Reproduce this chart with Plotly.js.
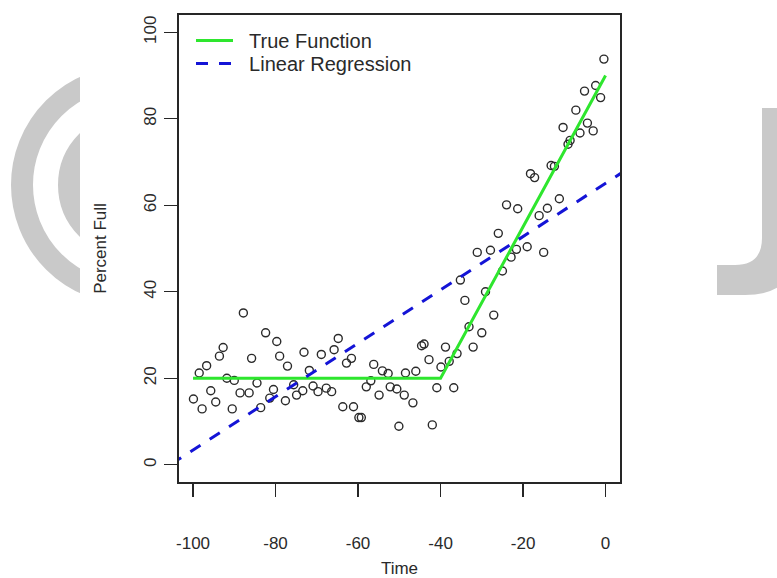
<!DOCTYPE html>
<html>
<head>
<meta charset="utf-8">
<script src="https://cdn.plot.ly/plotly-3.0.1.min.js"></script>
<style>html,body{margin:0;padding:0;background:#fff;}#chart{width:777px;height:578px;}</style>
</head>
<body>
<div id="chart"></div>
<script>
// ---- data ----
const timeValues = [-99.9,-98.5,-97.8,-96.7,-95.7,-94.5,-93.6,-92.7,-91.8,-90.5,-90.0,-88.6,-87.8,-86.4,-85.8,-84.5,-83.6,-82.4,-81.4,-80.5,
  -79.7,-79.0,-77.6,-77.1,-75.6,-74.9,-73.4,-73.1,-71.8,-70.9,-69.7,-68.9,-67.7,-66.4,-65.8,-64.8,-63.7,-62.8,-61.6,-61.1,
  -59.8,-59.2,-58.0,-56.9,-56.2,-54.9,-54.1,-52.7,-52.2,-50.6,-50.1,-48.8,-48.5,-46.7,-46.0,-44.6,-44.0,-42.8,-42.0,-40.9,
  -39.9,-38.8,-37.9,-36.8,-36.0,-35.2,-34.1,-33.1,-32.1,-31.1,-30.0,-29.1,-27.9,-27.1,-26.0,-25.0,-24.0,-22.9,-21.6,-21.3,
  -19.0,-18.2,-17.2,-16.1,-15.0,-14.1,-13.2,-12.4,-11.2,-10.3,-9.1,-8.6,-7.2,-6.2,-5.1,-4.4,-3.0,-2.4,-1.2,-0.4];
const percentFull = [15.2,21.2,12.9,22.9,17.1,14.5,25.1,27.1,20.0,12.9,19.5,16.6,35.1,16.6,24.6,18.9,13.2,30.5,15.4,17.4,
  28.5,25.1,14.8,22.8,18.5,16.1,17.1,26.0,21.8,18.2,16.9,25.5,17.7,16.9,26.6,29.2,13.4,23.5,24.6,13.4,
  10.9,10.9,18.0,19.4,23.2,16.1,21.7,21.1,18.0,17.5,8.9,16.1,21.2,14.3,21.6,27.5,27.9,24.3,9.2,17.8,
  22.6,27.2,23.9,17.8,25.7,42.7,38.0,31.9,27.2,49.1,30.5,40.0,49.6,34.6,53.5,44.8,60.1,48.0,49.8,59.2,
  50.4,67.3,66.4,57.6,49.1,59.3,69.2,69.0,61.5,78.0,74.1,75.0,82.0,76.7,86.4,79.0,77.2,87.7,84.9,93.8];
const trueFunctionX = [-100, -40, 0];
const trueFunctionY = [20, 20, 90];
const regressionX = [-110, 10];
const regressionY = [-2.77, 71.27];
const xTickValues = [-100, -80, -60, -40, -20, 0];
const yTickValues = [0, 20, 40, 60, 80, 100];
const legendNames = ["True Function", "Linear Regression"];

// ---- drawing ----
const FONT = '"Liberation Sans", Arial, sans-serif';
const L = 179, R = 620, T = 15, B = 482;   // plot box in pixels
const px = x => (x - L) / (R - L);
const py = y => (B - y) / (B - T);
const P = (x, y) => px(x).toFixed(4) + ',' + py(y).toFixed(4);
const grey = '#c9c9c9';
const NB = '\u00a0\u00a0';

const traces = [
  {x: timeValues, y: percentFull, type: 'scatter', mode: 'markers', showlegend: false,
   marker: {symbol: 'circle-open', size: 8, color: '#2a2a2a', line: {width: 1.4}}, hoverinfo: 'skip'},
  {x: trueFunctionX, y: trueFunctionY, type: 'scatter', mode: 'lines', name: NB + legendNames[0], legend: 'legend',
   line: {color: '#2ee62e', width: 3}},
  {x: regressionX, y: regressionY, type: 'scatter', mode: 'lines', name: NB + legendNames[1], legend: 'legend2',
   line: {color: '#1414d6', width: 3, dash: '12px,11px'}}
];

const shapes = [
  {type: 'circle', xref: 'paper', yref: 'paper', layer: 'below',
   x0: px(130.5 - 108.5), x1: px(130.5 + 108.5), y0: py(185 + 108.5), y1: py(185 - 108.5),
   line: {color: grey, width: 22}, fillcolor: 'rgba(0,0,0,0)'},
  {type: 'circle', xref: 'paper', yref: 'paper', layer: 'below',
   x0: px(130.5 - 61.5), x1: px(130.5 + 61.5), y0: py(185 + 61.5), y1: py(185 - 61.5),
   line: {color: grey, width: 22}, fillcolor: 'rgba(0,0,0,0)'},
  {type: 'path', xref: 'paper', yref: 'paper', layer: 'below',
   path: 'M' + P(762,108) + ' L' + P(795,108) + ' L' + P(795,250) + ' Q' + P(795,295) + ' ' + P(745,295) +
         ' L' + P(717,295) + ' L' + P(717,265) + ' L' + P(735,265) + ' Q' + P(762,265) + ' ' + P(762,238) + ' Z',
   fillcolor: grey, line: {width: 0}},
  {type: 'rect', xref: 'paper', yref: 'paper', layer: 'below',
   x0: px(80), x1: px(717), y0: py(600), y1: py(-20), fillcolor: '#ffffff', line: {width: 0}}
];

const AXFONT = {family: FONT, size: 17, color: '#2a2a2a'};
const axisCommon = {
  showgrid: false, zeroline: false, showline: true, mirror: true, linecolor: '#262626', linewidth: 1.6,
  ticks: 'outside', ticklen: 13, tickwidth: 1.4, tickcolor: '#262626',
  tickfont: AXFONT, tickmode: 'array'
};
const legendCommon = {xanchor: 'left', yanchor: 'top', bgcolor: 'rgba(0,0,0,0)',
  font: {family: FONT, size: 20, color: '#2a2a2a'}, itemwidth: 37};

const layout = {
  width: 777, height: 578,
  margin: {l: L, r: 777 - R, t: T, b: 578 - B, pad: 0},
  paper_bgcolor: '#ffffff', plot_bgcolor: 'rgba(0,0,0,0)',
  font: {family: FONT, size: 17, color: '#2a2a2a'},
  xaxis: Object.assign({}, axisCommon, {
    range: [-103.4, 3.5], tickvals: xTickValues, ticktext: xTickValues.map(String),
    ticklabelstandoff: 32,
    title: {text: 'Time', font: AXFONT, standoff: 16}
  }),
  yaxis: Object.assign({}, axisCommon, {
    range: [-4, 104], tickvals: yTickValues, ticktext: yTickValues.map(String),
    tickangle: -90, ticklabelstandoff: 2,
    title: {text: 'Percent Full', font: AXFONT, standoff: 29}
  }),
  legend: Object.assign({}, legendCommon, {x: px(191), y: py(21)}),
  legend2: Object.assign({}, legendCommon, {x: px(191), y: py(44)}),
  shapes: shapes,
  showlegend: true
};

Plotly.newPlot('chart', traces, layout, {staticPlot: true, displayModeBar: false});
</script>
</body>
</html>
